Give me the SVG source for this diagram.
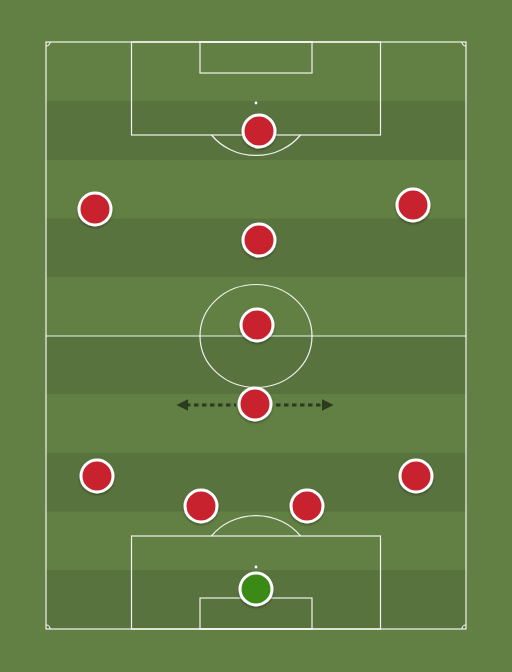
<svg xmlns="http://www.w3.org/2000/svg" width="512" height="672" viewBox="0 0 512 672">
  <style>
    .line { fill: none; stroke: #ffffff; stroke-width: 1.2; opacity: 0.9; }
    .stripe { fill: #59733f; }
    .player { stroke: #ffffff; stroke-width: 3; filter: url(#sh); }
    .red { fill: #c8222e; }
    .gk { fill: #3a8a17; }
    .move { fill: none; stroke: #2b3b1f; stroke-width: 3; stroke-dasharray: 4.5 3.5; }
  </style>
  <defs>
    <filter id="sh" x="-30%" y="-30%" width="160%" height="160%">
      <feDropShadow dx="0" dy="1.5" stdDeviation="1.2" flood-color="#000000" flood-opacity="0.35"/>
    </filter>
    <marker id="ah" viewBox="0 0 10 10" refX="2" refY="5" markerWidth="4" markerHeight="4" orient="auto-start-reverse" markerUnits="strokeWidth">
      <path d="M0,0 L10,5 L0,10 Z" fill="#2b3b1f"/>
    </marker>
  </defs>
  <rect x="0" y="0" width="512" height="672" fill="#628043"/>
  <g id="stripes">
    <rect class="stripe" x="46" y="101" width="420" height="59"/>
    <rect class="stripe" x="46" y="218.5" width="420" height="58.5"/>
    <rect class="stripe" x="46" y="336" width="420" height="58"/>
    <rect class="stripe" x="46" y="453" width="420" height="58.5"/>
    <rect class="stripe" x="46" y="570" width="420" height="59"/>
  </g>
  <g id="pitch">
    <rect class="line" x="46" y="42" width="420" height="587"/>
    <line class="line" x1="46" y1="336" x2="466" y2="336"/>
    <ellipse class="line" cx="256" cy="336" rx="56" ry="51.5"/>
    <rect class="line" x="131.5" y="42" width="249" height="93"/>
    <rect class="line" x="200" y="42" width="112" height="31"/>
    <circle cx="256" cy="103" r="1.4" fill="#ffffff"/>
    <path class="line" d="M211.5,135 A56,52 0 0 0 300.5,135"/>
    <rect class="line" x="131.5" y="536" width="249" height="93"/>
    <rect class="line" x="200" y="598" width="112" height="31"/>
    <circle cx="256" cy="567" r="1.4" fill="#ffffff"/>
    <path class="line" d="M211.5,536 A56,52 0 0 1 300.5,536"/>
    <path class="line" d="M46,46 A4,4 0 0 0 50,42"/>
    <path class="line" d="M462,42 A4,4 0 0 0 466,46"/>
    <path class="line" d="M46,625 A4,4 0 0 1 50,629"/>
    <path class="line" d="M462,629 A4,4 0 0 1 466,625"/>
  </g>
  <g id="connectors">
    <line class="move" x1="186" y1="405" x2="236" y2="405" marker-start="url(#ah)"/>
    <line class="move" x1="276" y1="405" x2="324" y2="405" marker-end="url(#ah)"/>
  </g>
  <g id="p1"><circle class="player red" cx="259" cy="131" r="16"/></g>
  <g id="p2"><circle class="player red" cx="95" cy="209" r="16"/></g>
  <g id="p3"><circle class="player red" cx="413" cy="205" r="16"/></g>
  <g id="p4"><circle class="player red" cx="259" cy="240" r="16"/></g>
  <g id="p5"><circle class="player red" cx="257" cy="325" r="16"/></g>
  <g id="p6"><circle class="player red" cx="255" cy="404" r="16"/></g>
  <g id="p7"><circle class="player red" cx="97" cy="476" r="16"/></g>
  <g id="p8"><circle class="player red" cx="416" cy="476" r="16"/></g>
  <g id="p9"><circle class="player red" cx="201" cy="506" r="16"/></g>
  <g id="p10"><circle class="player red" cx="307" cy="506" r="16"/></g>
  <g id="gk"><circle class="player gk" cx="256" cy="589" r="16"/></g>
</svg>
